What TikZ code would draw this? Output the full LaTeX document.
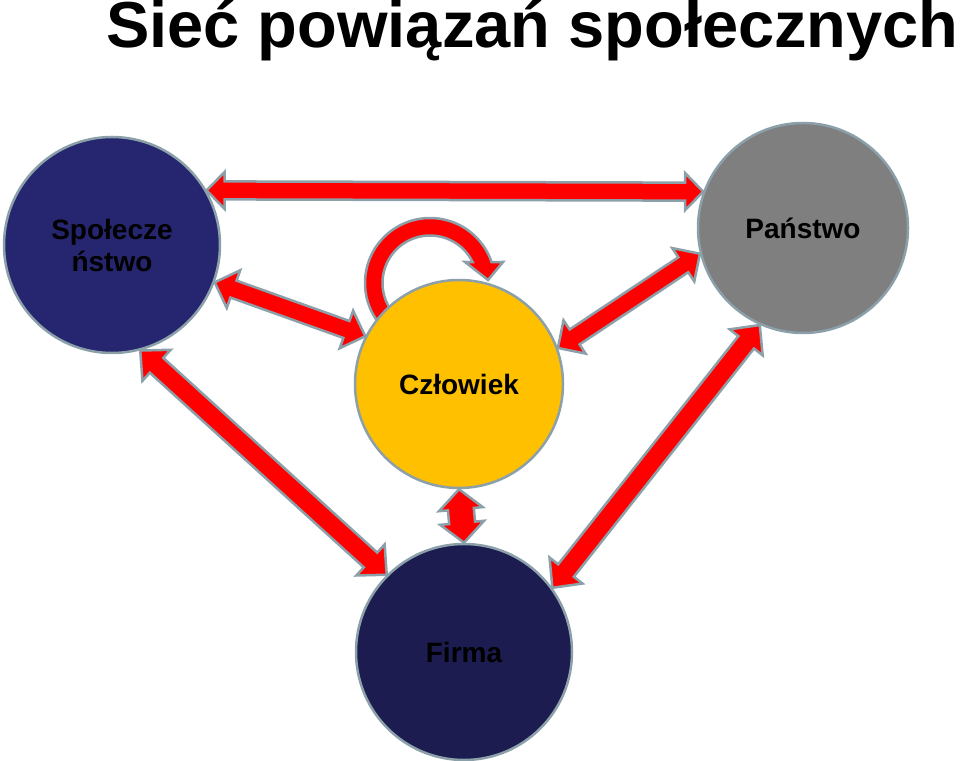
\documentclass[tikz,border=0pt]{standalone}
\usepackage{fontspec}
\setmainfont{Liberation Sans}
\usetikzlibrary{calc,positioning,backgrounds}
\definecolor{socblue}{RGB}{38,38,112}
\definecolor{firblue}{RGB}{28,28,80}
\definecolor{pangray}{RGB}{127,127,127}
\definecolor{czlgold}{RGB}{255,192,0}
\definecolor{rimgray}{RGB}{140,160,170}

\newcommand{\linkarrow}[5]{%
  \coordinate (h1) at ($(#1)!#3!(#2)$);
  \coordinate (h2) at ($(#2)!#3!(#1)$);
  \path[link] (#1) -- ($(h1)!#4!90:(#2)$) -- ($(h1)!#5!90:(#2)$) -- ($(h2)!#5!-90:(#1)$) -- ($(h2)!#4!-90:(#1)$) -- (#2)
    -- ($(h2)!#4!90:(#1)$) -- ($(h2)!#5!90:(#1)$) -- ($(h1)!#5!-90:(#2)$) -- ($(h1)!#4!-90:(#2)$) -- cycle;
}

\begin{document}
\begin{tikzpicture}[x=1pt, y=1pt, person/.style = {circle, draw=rimgray, line width=2.5pt, minimum size=#1, inner sep=0pt, align=center, font=\fontsize{28}{32}\selectfont\bfseries}, link/.style = {fill=red, draw=rimgray, line width=2.5pt, line join=miter}, headline/.style = {anchor=base west, inner sep=0pt, font=\fontsize{65}{70}\selectfont\bfseries}]
\useasboundingbox (0,0) rectangle (960,760);
\node[headline] (title) at (106,712) {Sieć powiązań społecznych};
\node[person=216pt, fill=socblue] (soc) at (112,515) {Społecze\\ństwo};
\node[person=210pt, fill=pangray] (pan) at (803,532) {Państwo};
\node[person=208pt, fill=czlgold] (czl) at (459,376) {Człowiek};
\node[person=216pt, fill=firblue] (fir) at (464,108) {Firma};
\coordinate (loop) at ($(czl.center)+(-29,101)$);

\linkarrow{soc.30}{pan.160}{18pt}{18.5pt}{9pt}
\linkarrow{soc.-20}{czl.153}{20pt}{20pt}{9pt}
\linkarrow{pan.194}{czl.20}{20pt}{20pt}{9pt}
\linkarrow{soc.-75}{fir.135}{22pt}{21pt}{10pt}
\linkarrow{pan.246}{fir.36}{22pt}{21pt}{10pt}
\linkarrow{czl.south}{fir.north}{20pt}{22pt}{13pt}
\begin{pgfonlayer}{background}
\path[link] ($(loop)+(215:65pt)$) arc[start angle=215, end angle=18.8, radius=65pt] -- ($(loop)+(73,21)$) -- ($(loop)+(58,3)$) -- ($(loop)+(35,21)$) -- ($(loop)+(26.2:47.5pt)$) arc[start angle=26.2, end angle=215, radius=47.5pt] -- cycle;
\end{pgfonlayer}
\end{tikzpicture}
\end{document}
